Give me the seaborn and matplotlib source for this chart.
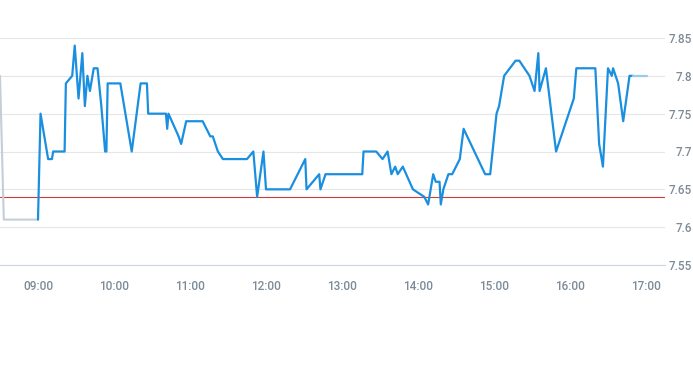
import pandas as pd
import numpy as np
import matplotlib
matplotlib.use('Agg')
import matplotlib.pyplot as plt
import matplotlib.dates as mdates
import seaborn as sns

# intraday price
pre_times = ['08:30', '08:33', '09:00']
pre_prices = [7.80, 7.61, 7.61]

times = ['09:00', '09:02', '09:08', '09:11', '09:12', '09:21', '09:22', '09:27',
         '09:29', '09:32', '09:35', '09:37', '09:39', '09:41', '09:44', '09:47',
         '09:50', '09:53', '09:54', '09:55', '10:05', '10:14', '10:21', '10:26',
         '10:27', '10:41', '10:42', '10:43', '10:51', '10:53', '10:57', '11:10',
         '11:16', '11:18', '11:22', '11:26', '11:45', '11:50', '11:53', '11:58',
         '12:00', '12:19', '12:31', '12:32', '12:42', '12:43', '12:47', '13:16',
         '13:17', '13:27', '13:32', '13:36', '13:39', '13:42', '13:44', '13:48',
         '13:56', '14:05', '14:08', '14:12', '14:14', '14:17', '14:18', '14:20',
         '14:24', '14:27', '14:33', '14:36', '14:53', '14:57', '15:02', '15:04',
         '15:08', '15:17', '15:20', '15:28', '15:32', '15:35', '15:36', '15:41',
         '15:49', '16:03', '16:05', '16:20', '16:23', '16:26', '16:30', '16:33',
         '16:34', '16:38', '16:42', '16:47', '16:50']
prices = [7.61, 7.75, 7.69, 7.69, 7.70, 7.70, 7.79, 7.80,
          7.84, 7.77, 7.83, 7.76, 7.80, 7.78, 7.81, 7.81,
          7.76, 7.70, 7.70, 7.79, 7.79, 7.70, 7.79, 7.79,
          7.75, 7.75, 7.73, 7.75, 7.72, 7.71, 7.74, 7.74,
          7.72, 7.72, 7.70, 7.69, 7.69, 7.70, 7.64, 7.70,
          7.65, 7.65, 7.69, 7.65, 7.67, 7.65, 7.67, 7.67,
          7.70, 7.70, 7.69, 7.70, 7.67, 7.68, 7.67, 7.68,
          7.65, 7.64, 7.63, 7.67, 7.66, 7.66, 7.63, 7.65,
          7.67, 7.67, 7.69, 7.73, 7.67, 7.67, 7.75, 7.76,
          7.80, 7.82, 7.82, 7.80, 7.78, 7.83, 7.78, 7.81,
          7.70, 7.77, 7.81, 7.81, 7.71, 7.68, 7.81, 7.80,
          7.81, 7.79, 7.74, 7.80, 7.80]

post_times = ['16:50', '17:01']
post_prices = [7.80, 7.80]

ref_price = 7.64
yticks = [7.55, 7.6, 7.65, 7.7, 7.75, 7.8, 7.85]
ytick_labels = ['7.55', '7.6', '7.65', '7.7', '7.75', '7.8', '7.85']
xtick_hours = ['09:00', '10:00', '11:00', '12:00', '13:00', '14:00', '15:00', '16:00', '17:00']


def to_dt(lst):
    return pd.to_datetime(['2024-01-02 ' + t for t in lst])


pre = pd.DataFrame({'time': to_dt(pre_times), 'price': pre_prices})
main = pd.DataFrame({'time': to_dt(times), 'price': prices})
post = pd.DataFrame({'time': to_dt(post_times), 'price': post_prices})

sns.set_style('white')
plt.rcParams['font.family'] = ['Roboto', 'DejaVu Sans']

fig = plt.figure(figsize=(6.93, 3.65), dpi=100)
ax = fig.add_axes([0.0, 1 - 265 / 365, 665 / 693, (265 - 38) / 365])

sns.lineplot(data=pre, x='time', y='price', ax=ax, color='#c3ced8', lw=1.5)
sns.lineplot(data=main, x='time', y='price', ax=ax, color='#1a8fe0', lw=1.6)
sns.lineplot(data=post, x='time', y='price', ax=ax, color='#9ccbea', lw=1.6)
ax.axhline(ref_price, color='#d03c36', lw=0.8, zorder=1)

ax.set_xlim(pd.Timestamp('2024-01-02 08:30'), pd.Timestamp('2024-01-02 17:15'))
ax.set_ylim(7.55, 7.85)
ax.set_yticks(yticks)
ax.set_yticklabels(ytick_labels, ha='right')
ax.set_xticks(to_dt(xtick_hours))
ax.xaxis.set_major_formatter(mdates.DateFormatter('%H:%M'))

ax.yaxis.tick_right()
ax.grid(axis='y', color='#e6e6e6', lw=0.8)
ax.set_axisbelow(True)
for s in ['left', 'top', 'right']:
    ax.spines[s].set_visible(False)
ax.spines['bottom'].set_color('#ccd6e0')
ax.spines['bottom'].set_linewidth(0.8)
ax.tick_params(axis='x', colors='#ccd6e0', length=5, width=0.8, pad=6,
               labelcolor='#7d8a97', labelsize=8.5)
ax.tick_params(axis='y', length=0, pad=19.5, labelcolor='#7d8a97', labelsize=8.5)
for lab in ax.get_xticklabels() + ax.get_yticklabels():
    lab.set_fontweight('medium')
ax.set_xlabel('')
ax.set_ylabel('')

plt.savefig('out.png', dpi=100)
